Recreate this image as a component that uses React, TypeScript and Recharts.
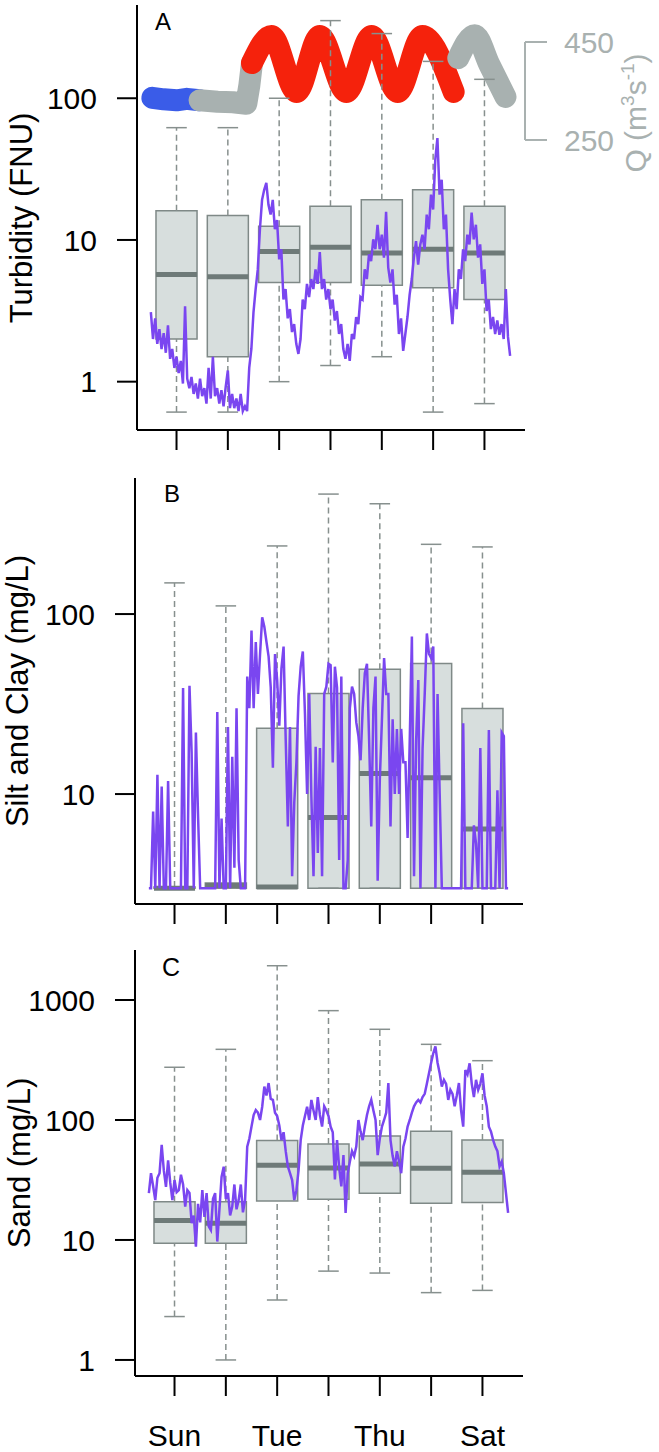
import React from 'react';
import { ComposedChart, Line, XAxis, YAxis, ReferenceArea, ReferenceLine } from 'recharts';

// days on the x axis: Sun = 1 ... Sat = 7
const DAYS = ['Sun', 'Mon', 'Tue', 'Wed', 'Thu', 'Fri', 'Sat'];
const DAY_POS = [1, 2, 3, 4, 5, 6, 7];

// the sensor series are hourly, starting half a day before the Sun tick
const SERIES_START = 0.5;
const HOURS_PER_DAY = 24;

// A - turbidity (FNU), hourly
const TURBIDITY = [
  3.1, 2.0, 2.8, 1.85, 2.35, 1.7, 2.2, 1.6, 2.5, 1.45,
  1.7, 1.25, 1.5, 1.15, 1.4, 0.97, 3.4, 1.05, 0.9, 1.08,
  0.82, 0.97, 0.76, 1.05, 0.79, 0.9, 0.7, 1.25, 0.76, 1.5,
  0.79, 0.9, 0.7, 0.87, 0.67, 0.92, 1.2, 0.65, 0.82, 0.65,
  0.76, 0.62, 0.82, 0.62, 0.67, 0.62, 1.25, 1.7, 3.1, 4.5,
  6.2, 11.9, 19.2, 22.6, 25.3, 17.7, 15.1, 19.2, 11.9, 13.8,
  7.3, 8.6, 3.8, 4.5, 2.8, 3.25, 2.24, 2.55, 1.85, 1.57,
  2.0, 3.8, 3.25, 4.9, 3.95, 5.3, 4.5, 6.2, 4.9, 8.2,
  4.5, 5.3, 3.8, 4.5, 3.25, 3.8, 2.7, 3.15, 2.17, 2.55,
  1.7, 1.45, 1.85, 1.4, 2.17, 2.0, 2.86, 2.55, 3.95, 3.8,
  6.2, 5.3, 7.9, 7.1, 10.1, 8.6, 12.8, 8.6, 10.9, 7.5,
  15.8, 6.4, 5.0, 6.2, 3.5, 4.1, 2.17, 2.8, 1.65, 2.17,
  2.86, 4.1, 5.3, 7.5, 9.8, 6.7, 9.3, 10.9, 8.6, 15.1,
  11.9, 20.9, 16.4, 36.7, 52.4, 20.9, 26.6, 11.9, 15.1, 6.2,
  3.8, 2.55, 4.5, 3.25, 6.2, 5.3, 8.6, 7.1, 10.9, 9.3,
  15.6, 10.1, 12.8, 7.5, 9.3, 4.9, 6.2, 3.15, 3.8, 2.35,
  2.86, 2.17, 2.7, 2.14, 2.55, 2.0, 4.5, 2.07, 1.52,
];

// B - silt and clay (mg/L), hourly
const SILT_CLAY = [
  3, 3, 8.0, 3, 12.8, 3, 11.0, 3, 3, 11.8,
  3, 3, 3, 3, 3, 3, 38.8, 3, 3, 40,
  17, 3, 22, 7.6, 3, 3, 3, 3, 3, 3,
  3, 3, 28.6, 3, 7.3, 3, 3, 23.6, 3, 16.1,
  3.9, 30, 4.3, 3, 3, 3, 45, 30, 81, 30,
  70, 36, 60, 96, 85, 70, 58, 39, 14, 60,
  43, 24, 50, 66, 20, 6.6, 23.6, 3.5, 9, 15,
  35, 51, 62, 28, 10, 36, 9.7, 3.5, 18.3, 4.7,
  18, 3.5, 36, 39.5, 53, 52, 15, 51, 39, 4.3,
  45, 3, 3, 4.3, 30, 39.5, 36, 25, 21, 15.4,
  30, 47, 53, 20, 6.6, 30, 45, 3.3, 12, 26,
  57, 36, 36, 6.6, 26, 10, 23, 10, 23, 15,
  15, 5.7, 20, 75, 3.5, 20, 43, 3, 18, 36,
  78, 60, 57, 66, 3, 36, 10, 3, 3, 3,
  3, 3, 3, 3, 3, 3, 3, 24.7, 3, 3,
  3, 3, 6.7, 5.3, 3, 18, 3, 3, 3, 22.7,
  3, 3, 3, 10.5, 3, 22, 21, 3, 3,
];

// C - sand (mg/L), hourly
const SAND = [
  24.6, 36, 28, 21.5, 33, 36, 62, 38, 27.7, 46,
  30, 21.5, 31.6, 25, 26, 35, 29, 19, 26, 24.6,
  13.8, 16, 8.8, 20, 14, 26, 15.6, 24.6, 13, 12.1,
  22, 24.6, 9.7, 18, 33.6, 40.8, 22, 24.6, 16, 19,
  29, 18, 21.5, 29, 17, 21.5, 60, 70, 88, 110,
  121, 115, 100, 129, 190, 160, 203, 150, 147, 115,
  108, 90, 68, 79, 55, 41, 36, 31.6, 21.5, 26,
  38, 68, 90, 108, 129, 100, 147, 120, 100, 155,
  110, 88, 130, 120, 108, 88, 79, 32, 68, 40,
  28, 51, 16.8, 36, 45, 55, 50, 60, 100, 80,
  68, 88, 110, 130, 147, 120, 100, 51, 70, 88,
  100, 115, 203, 68, 50, 41, 55, 45, 36, 60,
  70, 88, 100, 115, 130, 140, 147, 140, 155, 165,
  200, 245, 300, 360, 410, 300, 245, 190, 216, 200,
  147, 178, 165, 130, 160, 203, 120, 88, 261, 240,
  297, 200, 155, 216, 178, 200, 245, 160, 130, 88,
  80, 68, 60, 55, 41, 45, 36, 24.6, 16.8,
];

// daily box stats (whisker low, q1, median, q3, whisker high)
const TURB_LO = [0.61, 0.61, 1.0, 1.3, 1.5, 0.61, 0.7];
const TURB_Q1 = [2.0, 1.5, 5.0, 5.0, 4.8, 4.6, 3.8];
const TURB_MED = [5.7, 5.5, 8.3, 8.9, 8.1, 8.6, 8.1];
const TURB_Q3 = [16.1, 14.9, 12.5, 17.3, 19.2, 22.6, 17.3];
const TURB_HI = [62, 62, 100, 353, 286, 182, 136];

const SILT_LO = [3, 3, 3, 3, 3, 3, 3];
const SILT_Q1 = [3, 3, 3, 3, 3, 3, 3];
const SILT_MED = [3, 3.1, 3.05, 7.4, 13.0, 12.3, 6.4];
const SILT_Q3 = [3.05, 3.2, 23.2, 36.2, 49.3, 53.2, 29.9];
const SILT_HI = [149, 111, 239, 464, 410, 244, 236];

const SAND_LO = [2.3, 1.0, 3.16, 5.5, 5.3, 3.64, 3.8];
const SAND_Q1 = [9.4, 9.4, 21.1, 21.8, 24.5, 20.2, 20.5];
const SAND_MED = [14.5, 13.8, 41.9, 39.8, 43, 39.6, 36.6];
const SAND_Q3 = [20.8, 20.8, 67.3, 63, 73.6, 80.5, 68];
const SAND_HI = [275, 388, 1930, 815, 570, 427, 312];

// discharge Q (m3/s) drawn on top of panel A, split by colour
const Q_BLUE_T = [0.53, 0.75, 1.0, 1.2, 1.45];
const Q_BLUE = [336, 333, 331, 334, 331];
const Q_GRAY1_T = [1.45, 1.8, 2.1, 2.36, 2.42, 2.47];
const Q_GRAY1 = [331, 328, 327, 324, 362, 407];
const Q_RED_T = [2.47, 2.85, 3.34, 3.79, 4.31, 4.8, 5.31, 5.79, 6.4];
const Q_RED = [407, 462, 348, 462, 348, 462, 348, 462, 348];
const Q_GRAY2_T = [6.49, 6.81, 7.1, 7.41];
const Q_GRAY2 = [417, 464, 403, 338];

const FONT = '"Liberation Sans", Arial, Helvetica, sans-serif';
const PURPLE = '#7a46f0';
const BOX_FILL = '#d7dedd';
const BOX_STROKE = '#7f8987';
const MEDIAN = '#6e7a78';
const WHISKER = '#87908e';
const Q_TXT = '#a9b1b0';
const X_DOMAIN = [0.23, 7.79];
const BOX_HALF = 0.4;
const CAP_HALF = 0.2;

const AXIS = { stroke: '#000', strokeWidth: 2 };
const TICK = { fill: '#000', fontSize: 30, fontFamily: FONT };

const hourly = (vals: number[]) =>
  vals.map((v, i) => ({ t: SERIES_START + i / HOURS_PER_DAY, v }));
const pairs = (ts: number[], qs: number[]) => ts.map((t, i) => ({ t, q: qs[i] }));

function boxes(key: string, lo: number[], q1: number[], med: number[], q3: number[], hi: number[]) {
  const out: React.ReactNode[] = [];
  DAY_POS.forEach((d, i) => {
    out.push(
      <ReferenceLine key={`${key}-wh${i}`} yAxisId="left" segment={[{ x: d, y: q3[i] }, { x: d, y: hi[i] }]}
        stroke={WHISKER} strokeWidth={1.5} strokeDasharray="6 4" />,
      <ReferenceLine key={`${key}-wl${i}`} yAxisId="left" segment={[{ x: d, y: lo[i] }, { x: d, y: q1[i] }]}
        stroke={WHISKER} strokeWidth={1.5} strokeDasharray="6 4" />,
      <ReferenceLine key={`${key}-ch${i}`} yAxisId="left" segment={[{ x: d - CAP_HALF, y: hi[i] }, { x: d + CAP_HALF, y: hi[i] }]}
        stroke={WHISKER} strokeWidth={1.5} />,
      <ReferenceLine key={`${key}-cl${i}`} yAxisId="left" segment={[{ x: d - CAP_HALF, y: lo[i] }, { x: d + CAP_HALF, y: lo[i] }]}
        stroke={WHISKER} strokeWidth={1.5} />,
      <ReferenceArea key={`${key}-b${i}`} yAxisId="left" x1={d - BOX_HALF} x2={d + BOX_HALF} y1={q1[i]} y2={q3[i]}
        fill={BOX_FILL} fillOpacity={1} stroke={BOX_STROKE} strokeWidth={1.5} />,
      <ReferenceLine key={`${key}-m${i}`} yAxisId="left" segment={[{ x: d - BOX_HALF, y: med[i] }, { x: d + BOX_HALF, y: med[i] }]}
        stroke={MEDIAN} strokeWidth={5} />
    );
  });
  return out;
}

function xAxis(height: number, labels: boolean) {
  return (
    <XAxis type="number" dataKey="t" domain={X_DOMAIN} ticks={DAY_POS} allowDataOverflow
      height={height} tickSize={20} tickMargin={29} axisLine={AXIS} tickLine={AXIS} tick={TICK}
      tickFormatter={(v: number) => (labels && v % 2 === 1 ? DAYS[v - 1] : '')} />
  );
}

export default function App() {
  return (
    <div style={{ position: 'absolute', left: 0, top: 0, width: 659, height: 1452, background: '#fff' }}>
      {/* A: turbidity + discharge */}
      <div style={{ position: 'absolute', left: 0, top: 0 }}>
        <ComposedChart width={659} height={460} margin={{ top: 5, right: 0, bottom: 0, left: 0 }}>
          {xAxis(30, false)}
          <YAxis yAxisId="left" type="number" scale="log" domain={[0.456, 455]} allowDataOverflow ticks={[1, 10, 100]}
            width={137} tickSize={20} tickMargin={20} axisLine={AXIS} tickLine={AXIS} tick={TICK} />
          <YAxis yAxisId="q" orientation="right" type="number" domain={[-342, 525.5]} allowDataOverflow ticks={[250, 450]}
            width={134} tickSize={22} tickMargin={17} axisLine={false}
            tickLine={{ stroke: Q_TXT, strokeWidth: 2 }} tick={{ ...TICK, fill: Q_TXT }} />
          <ReferenceLine yAxisId="q" segment={[{ x: X_DOMAIN[1], y: 250 }, { x: X_DOMAIN[1], y: 450 }]}
            stroke={Q_TXT} strokeWidth={2} ifOverflow="visible" />
          <Line yAxisId="q" data={pairs(Q_BLUE_T, Q_BLUE)} dataKey="q" type="linear" stroke="#3a5ce8"
            strokeWidth={22} strokeLinecap="round" strokeLinejoin="round" dot={false} isAnimationActive={false} />
          <Line yAxisId="q" data={pairs(Q_GRAY1_T, Q_GRAY1)} dataKey="q" type="linear" stroke="#a8b1b0"
            strokeWidth={22} strokeLinecap="round" strokeLinejoin="round" dot={false} isAnimationActive={false} />
          <Line yAxisId="q" data={pairs(Q_RED_T, Q_RED)} dataKey="q" type="monotone" stroke="#f5220c"
            strokeWidth={22} strokeLinecap="round" strokeLinejoin="round" dot={false} isAnimationActive={false} />
          <Line yAxisId="q" data={pairs(Q_GRAY2_T, Q_GRAY2)} dataKey="q" type="monotone" stroke="#a8b1b0"
            strokeWidth={22} strokeLinecap="round" strokeLinejoin="round" dot={false} isAnimationActive={false} />
          {boxes('a', TURB_LO, TURB_Q1, TURB_MED, TURB_Q3, TURB_HI)}
          <Line yAxisId="left" data={hourly(TURBIDITY)} dataKey="v" type="linear" stroke={PURPLE}
            strokeWidth={2.5} dot={false} isAnimationActive={false} />
        </ComposedChart>
      </div>

      {/* B: silt and clay */}
      <div style={{ position: 'absolute', left: 0, top: 460 }}>
        <ComposedChart width={659} height={470} margin={{ top: 18, right: 136, bottom: 0, left: 0 }}>
          {xAxis(26, false)}
          <YAxis yAxisId="left" type="number" scale="log" domain={[2.45, 570]} allowDataOverflow ticks={[10, 100]}
            width={135} tickSize={20} tickMargin={20} axisLine={AXIS} tickLine={AXIS} tick={TICK} />
          {boxes('b', SILT_LO, SILT_Q1, SILT_MED, SILT_Q3, SILT_HI)}
          <Line yAxisId="left" data={hourly(SILT_CLAY)} dataKey="v" type="linear" stroke={PURPLE}
            strokeWidth={2.5} dot={false} isAnimationActive={false} />
        </ComposedChart>
      </div>

      {/* C: sand */}
      <div style={{ position: 'absolute', left: 0, top: 930 }}>
        <ComposedChart width={659} height={522} margin={{ top: 20, right: 136, bottom: 0, left: 0 }}>
          {xAxis(76, true)}
          <YAxis yAxisId="left" type="number" scale="log" domain={[0.735, 2610]} allowDataOverflow ticks={[1, 10, 100, 1000]}
            width={135} tickSize={20} tickMargin={20} axisLine={AXIS} tickLine={AXIS} tick={TICK} />
          {boxes('c', SAND_LO, SAND_Q1, SAND_MED, SAND_Q3, SAND_HI)}
          <Line yAxisId="left" data={hourly(SAND)} dataKey="v" type="linear" stroke={PURPLE}
            strokeWidth={2.5} dot={false} isAnimationActive={false} />
        </ComposedChart>
      </div>

      {/* panel letters and axis titles */}
      <svg width={659} height={1452} style={{ position: 'absolute', left: 0, top: 0, pointerEvents: 'none' }}
        fontFamily={FONT}>
        <text x={155} y={30} fontSize={24}>A</text>
        <text x={164} y={502} fontSize={24}>B</text>
        <text x={162} y={976} fontSize={25}>C</text>
        <text transform="translate(32,218) rotate(-90)" textAnchor="middle" fontSize={31}>Turbidity (FNU)</text>
        <text transform="translate(28,691) rotate(-90)" textAnchor="middle" fontSize={31}>Silt and Clay (mg/L)</text>
        <text transform="translate(30,1163) rotate(-90)" textAnchor="middle" fontSize={31}>Sand (mg/L)</text>
        <text transform="translate(646,113) rotate(-90)" textAnchor="middle" fontSize={30} fill={Q_TXT}>
          Q (m<tspan dy={-12} fontSize={19}>3</tspan><tspan dy={12}>s</tspan>
          <tspan dy={-12} fontSize={19}>-1</tspan><tspan dy={12}>)</tspan>
        </text>
      </svg>
    </div>
  );
}
